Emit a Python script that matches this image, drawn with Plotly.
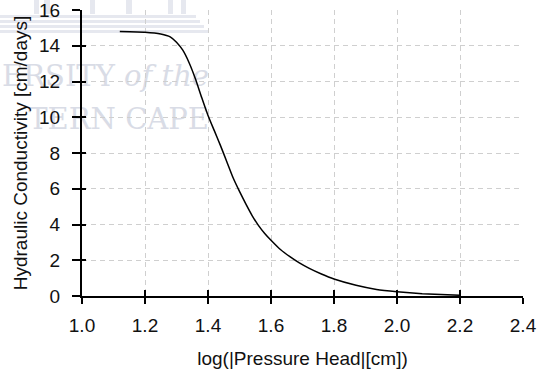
import plotly.graph_objects as go

# Data
log_pressure_head = [1.12, 1.20, 1.25, 1.28, 1.30, 1.32, 1.34, 1.36, 1.38, 1.40, 1.42,
                     1.44, 1.46, 1.48, 1.50, 1.52, 1.54, 1.56, 1.58, 1.60, 1.63,
                     1.66, 1.69, 1.72, 1.76, 1.80, 1.87, 1.935, 2.00, 2.08, 2.20]
hydraulic_conductivity = [14.8, 14.76, 14.66, 14.5, 14.2, 13.75, 13.05, 12.15, 11.1, 10.1, 9.25,
                          8.4, 7.5, 6.6, 5.85, 5.15, 4.5, 3.95, 3.5, 3.12, 2.6,
                          2.2, 1.85, 1.56, 1.23, 0.95, 0.6, 0.37, 0.24, 0.13, 0.04]
x_ticks = [1.0, 1.2, 1.4, 1.6, 1.8, 2.0, 2.2, 2.4]
x_tick_labels = ["1.0", "1.2", "1.4", "1.6", "1.8", "2.0", "2.2", "2.4"]
y_ticks = [0, 2, 4, 6, 8, 10, 12, 14, 16]
y_tick_labels = ["0", "2", "4", "6", "8", "10", "12", "14", "16"]
x_title = "log(|Pressure Head|[cm])"
y_title = "Hydraulic Conductivity [cm/days]"
watermark_lines = ["ERSITY <i>of the</i>", "TERN CAPE"]

FONT = "Liberation Sans, Arial, sans-serif"
x_range = [1.0, 2.4]
y_range = [0, 16]

W, H = 538, 371
L, R, T, B = 82, 15, 10, 75
PW, PH = W - L - R, H - T - B

fig = go.Figure()
fig.add_trace(go.Scatter(
    x=log_pressure_head, y=hydraulic_conductivity, mode="lines",
    line=dict(color="black", width=1.5, shape="spline", smoothing=0.4),
    showlegend=False, hoverinfo="skip"))
# same series on the overlay axes (invisible) so the inside tick marks render
fig.add_trace(go.Scatter(
    x=log_pressure_head, y=hydraulic_conductivity, mode="lines",
    line=dict(color="rgba(0,0,0,0)", width=0), showlegend=False,
    hoverinfo="skip", xaxis="x2", yaxis="y2"))

grid = dict(showgrid=True, gridcolor="#cfcfcf", gridwidth=1, griddash="5px,4px")

fig.update_layout(
    width=W, height=H,
    margin=dict(l=L, r=R, t=T, b=B),
    paper_bgcolor="white", plot_bgcolor="rgba(0,0,0,0)",
    font=dict(family=FONT, color="#111111", size=19),
    xaxis=dict(range=x_range, tickvals=x_ticks, ticktext=x_tick_labels,
               showline=True, linecolor="black", linewidth=2,
               ticks="outside", ticklen=6, tickwidth=1.5, tickcolor="black",
               zeroline=False, automargin=False, ticklabelstandoff=5,
               ticklabeloverflow="allow",
               title=dict(text=x_title, standoff=17, font=dict(size=19)),
               **grid),
    yaxis=dict(range=y_range, tickvals=y_ticks, ticktext=y_tick_labels,
               showline=True, linecolor="black", linewidth=2,
               ticks="outside", ticklen=8, tickwidth=1.5, tickcolor="black",
               zeroline=False, automargin=False, ticklabelstandoff=8,
               ticklabeloverflow="allow",
               title=dict(text=y_title, standoff=6, font=dict(size=19)),
               **grid),
    xaxis2=dict(range=x_range, overlaying="x", anchor="y", tickvals=x_ticks,
                ticks="inside", ticklen=6, tickwidth=1.5, tickcolor="black",
                showticklabels=False, showgrid=False, zeroline=False,
                showline=False, side="bottom"),
    yaxis2=dict(range=y_range, overlaying="y", anchor="x", tickvals=y_ticks,
                ticks="inside", ticklen=4, tickwidth=1.5, tickcolor="black",
                showticklabels=False, showgrid=False, zeroline=False,
                showline=False, side="left"),
)


def px_x(p):
    return (p - L) / PW


def px_y(p):
    return (H - B - p) / PH


# faint watermark behind the chart (shapes/labels on the lower layer)
WM = "#d9dce6"
wm_font = dict(family="DejaVu Serif, Liberation Serif, serif", size=29, color=WM)
for text, (ya, yb) in zip(watermark_lines, [(60, 88), (104, 130)]):
    fig.add_shape(type="rect", xref="paper", yref="paper", layer="below",
                  x0=px_x(-20), x1=px_x(212), y0=px_y(yb), y1=px_y(ya),
                  line=dict(width=0), fillcolor="rgba(0,0,0,0)",
                  label=dict(text=text, font=wm_font, textposition="middle right",
                             padding=0))
for (ya, yb, xe) in [(15, 18, 196), (20, 23, 200), (25, 28, 204), (30, 33, 208)]:
    fig.add_shape(type="rect", xref="paper", yref="paper", layer="below",
                  x0=px_x(0), x1=px_x(xe), y0=px_y(yb), y1=px_y(ya),
                  line=dict(width=0), fillcolor="#e6e8ef")
for (xa, xb) in [(34, 39), (44, 50), (90, 95), (126, 132), (168, 173), (181, 186)]:
    fig.add_shape(type="rect", xref="paper", yref="paper", layer="below",
                  x0=px_x(xa), x1=px_x(xb), y0=px_y(14), y1=px_y(0),
                  line=dict(width=0), fillcolor="#e6e8ef")

fig.write_html("out.html", config={"displayModeBar": False},
               post_script="document.body.style.margin='0';")
